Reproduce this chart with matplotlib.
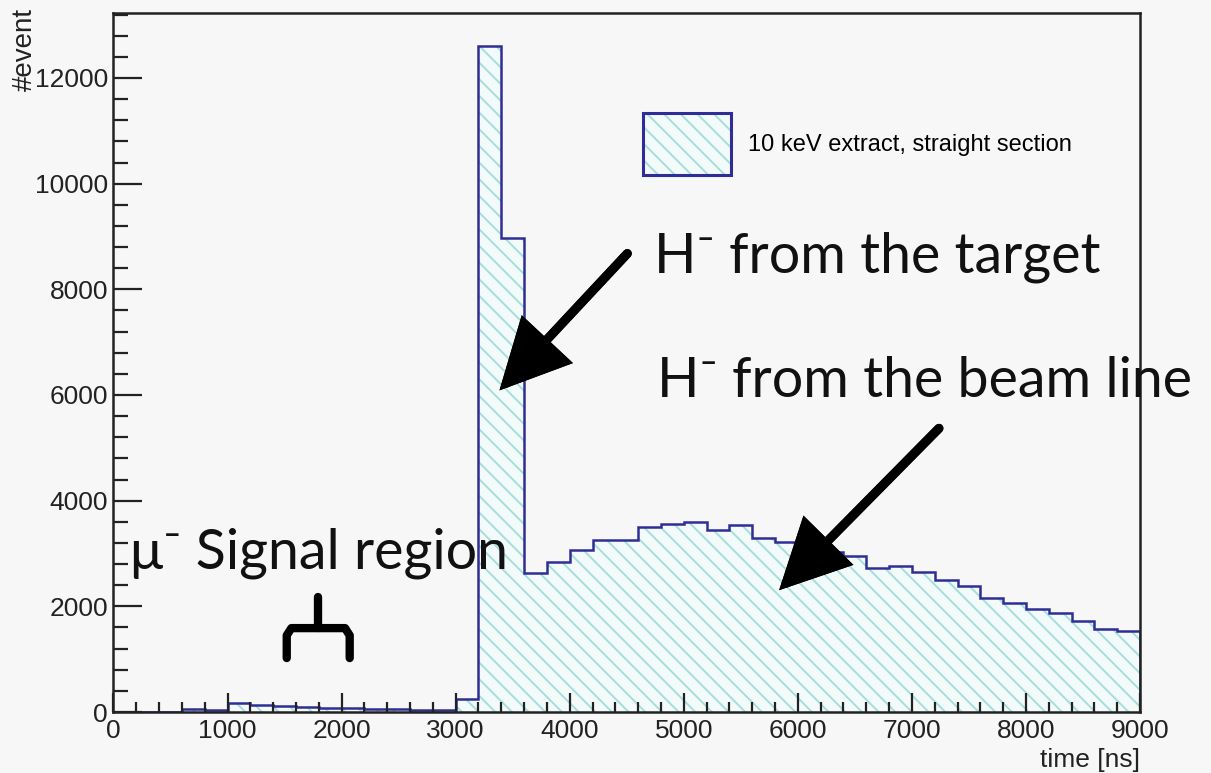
import numpy as np
import matplotlib
matplotlib.use("Agg")
import matplotlib.pyplot as plt
from matplotlib.ticker import MultipleLocator
from matplotlib.patches import Patch
from matplotlib.legend_handler import HandlerTuple
import matplotlib.patheffects as pe

# time bins [ns], 200 ns wide
bin_edges = np.arange(0, 9001, 200)
# #event per bin
counts = [0, 0, 0, 60, 40, 175, 130, 110, 90, 80,
          70, 60, 50, 45, 40, 240, 12600, 8980, 2630, 2830,
          3060, 3250, 3260, 3500, 3550, 3590, 3440, 3530, 3300, 3220,
          3220, 3020, 2950, 2720, 2770, 2650, 2500, 2390, 2150, 2070,
          1950, 1870, 1730, 1580, 1530]
x_ticks = [0, 1000, 2000, 3000, 4000, 5000, 6000, 7000, 8000, 9000]
y_ticks = [0, 2000, 4000, 6000, 8000, 10000, 12000]
legend_label = "10 keV extract, straight section"

bg = "#f7f7f7"
navy = "#2e2e96"
hatch_col = "#a6dedb"
fill_col = "#f3fafa"

plt.rcParams["font.family"] = ["Liberation Sans", "DejaVu Sans"]
plt.rcParams["hatch.linewidth"] = 1.4
plt.rcParams["hatch.color"] = hatch_col

fig = plt.figure(figsize=(12.11, 7.73), dpi=100, facecolor=bg)
ax = fig.add_axes([0.0937, 0.0789, 0.8477, 0.9043], facecolor=bg)

ax.stairs(counts, bin_edges, fill=True, facecolor=fill_col, edgecolor=hatch_col,
          hatch="\\\\", linewidth=0)
ax.stairs(counts, bin_edges, color=navy, linewidth=1.8)

ax.set_xlim(0, 9000)
ax.set_ylim(0, max(counts) * 1.05)
ax.set_xticks(x_ticks)
ax.set_yticks(y_ticks)
ax.xaxis.set_minor_locator(MultipleLocator(200))
ax.yaxis.set_minor_locator(MultipleLocator(400))
ax.tick_params(which="both", direction="in", top=False, right=False,
               width=1.6, color="#222222", labelsize=19, labelcolor="#222222")
ax.tick_params(axis="y", which="major", length=21, pad=4)
ax.tick_params(axis="y", which="minor", length=11)
ax.tick_params(axis="x", which="major", length=14, pad=5)
ax.tick_params(axis="x", which="minor", length=7)
for s in ax.spines.values():
    s.set_linewidth(1.8)
    s.set_color("#222222")

fig.text(25 / 1211, 1 - 8 / 773, "#event", rotation=90, ha="center", va="top",
         fontsize=20, color="#222222")
fig.text(1140 / 1211, 1 - 760 / 773, "time [ns]", ha="right", va="center",
         fontsize=19, color="#222222")

# legend: hatched box with navy frame
h_fill = Patch(facecolor=fill_col, edgecolor=hatch_col, hatch="\\\\", linewidth=0)
h_edge = Patch(facecolor="none", edgecolor=navy, linewidth=2.2)
ax.legend([(h_fill, h_edge)], [legend_label], handler_map={tuple: HandlerTuple(ndivide=1)},
          loc="center left", bbox_to_anchor=(0.516, 0.8126), frameon=False,
          fontsize=17, handlelength=3.7, handleheight=3.6, handletextpad=0.75,
          borderpad=0, borderaxespad=0)

# slide annotations
ann_font = dict(family=["Lato", "DejaVu Sans"], fontsize=40, color="#111111")
ax.text(4741, 8318, "H\u207b from the target", ha="left", va="baseline", **ann_font)
ax.text(4769, 5955, "H\u207b from the beam line", ha="left", va="baseline",
        clip_on=False, **ann_font)
ax.text(144, 2722, "\u03bc\u207b Signal region", ha="left", va="baseline", **ann_font)

shadow = [pe.withSimplePatchShadow(offset=(2, -2), alpha=0.25), pe.Normal()]
arrow_kw = dict(arrowstyle="-|>,head_length=1.0,head_width=0.5", lw=6.5, color="black",
                mutation_scale=40, shrinkA=0, shrinkB=0, capstyle="round",
                joinstyle="miter", path_effects=shadow)
ax.annotate("", xy=(3384, 6087), xytext=(4505, 8677), arrowprops=arrow_kw)
ax.annotate("", xy=(5836, 2306), xytext=(7237, 5369), arrowprops=arrow_kw)

# bracket under the signal region label
ax.plot([1791, 1791], [2174, 1588], color="black", lw=6, solid_capstyle="round")
ax.plot([1519, 1519, 1560, 2030, 2071, 2071], [1021, 1450, 1588, 1588, 1450, 1021],
        color="black", lw=6, solid_capstyle="round", solid_joinstyle="round")

fig.savefig("out.png", dpi=100, facecolor=bg)
